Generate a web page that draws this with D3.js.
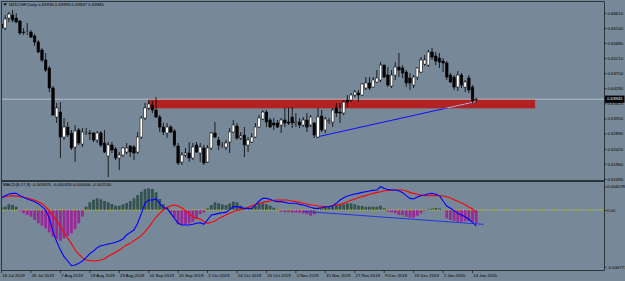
<!DOCTYPE html>
<html>
<head>
<meta charset="utf-8">
<script src="https://cdn.jsdelivr.net/npm/d3@7"></script>
<style>
    html, body { margin: 0; padding: 0; background: #778899; overflow: hidden; }
    svg { display: block; }
    text { font-family: "Liberation Sans", Arial, sans-serif; font-size: 4.3px; fill: #000; }
</style>
</head>
<body>
<div id="chart"></div>
<script>
const width = 625,
    height = 281;

// titles and labels
const symbolTitle = "NZDCHF,Daily  0.63934 0.63993 0.63837 0.63945";
const macdTitle = "MACD(8,17,9) -0.001876 -0.000326 0.000000 -0.001550";
const dateLabels = ["16 Jul 2019", "26 Jul 2019", "7 Aug 2019", "19 Aug 2019", "29 Aug 2019", "10 Sep 2019",
    "20 Sep 2019", "2 Oct 2019", "14 Oct 2019", "24 Oct 2019", "5 Nov 2019", "15 Nov 2019", "27 Nov 2019",
    "9 Dec 2019", "19 Dec 2019", "2 Jan 2020", "14 Jan 2020"];
const priceTicks = [0.6149, 0.6196, 0.6242, 0.6289, 0.6335, 0.6382, 0.6428, 0.6475, 0.6521, 0.6568, 0.6614, 0.6661];
const macdTicks = [0.004078, 0, -0.006771];
const macdTickLabels = ["0.004078", "0.00", "-0.006771"];
const lastPrice = 0.63945;

// daily candles, 16 Jul 2019 .. 15 Jan 2020
const opens = [0.66261, 0.66138, 0.66446, 0.66538, 0.66446, 0.66353, 0.66014, 0.66000, 0.66014, 0.65891,
    0.65706, 0.65460, 0.65152, 0.64906, 0.64290, 0.63396, 0.63550, 0.62780, 0.63088, 0.62904,
    0.62472, 0.62996, 0.62565, 0.62904, 0.62904, 0.62904, 0.62688, 0.62904, 0.62596, 0.62195,
    0.62534, 0.62411, 0.62134, 0.62226, 0.62318, 0.62503, 0.62472, 0.62318, 0.62780, 0.63366,
    0.63674, 0.63766, 0.63612, 0.63396, 0.63088, 0.62904, 0.63088, 0.62965, 0.62503, 0.62010,
    0.62226, 0.62288, 0.62134, 0.62534, 0.62288, 0.62442, 0.62010, 0.62442, 0.62904, 0.62688,
    0.62503, 0.62472, 0.62626, 0.62934, 0.63119, 0.62750, 0.62842, 0.62534, 0.62626, 0.62780,
    0.63088, 0.63335, 0.63550, 0.63304, 0.63212, 0.63212, 0.63150, 0.63304, 0.63242, 0.63396,
    0.63212, 0.63242, 0.63150, 0.63304, 0.63150, 0.63212, 0.62780, 0.63427, 0.62996, 0.63273,
    0.63242, 0.63674, 0.63550, 0.63520, 0.63920, 0.63920, 0.64074, 0.64136, 0.64074, 0.64290,
    0.64444, 0.64320, 0.64474, 0.64536, 0.64998, 0.64690, 0.64351, 0.64690, 0.64936, 0.64906,
    0.64782, 0.64598, 0.64382, 0.64628, 0.64782, 0.65029, 0.64998, 0.65398, 0.65275, 0.65214,
    0.65121, 0.65060, 0.64690, 0.64628, 0.64320, 0.64690, 0.64320, 0.64598, 0.64320, 0.63934];
const highs = [0.66322, 0.66538, 0.66630, 0.66692, 0.66600, 0.66384, 0.66138, 0.66292, 0.66076, 0.65953,
    0.65768, 0.65522, 0.65368, 0.64967, 0.64351, 0.63828, 0.63858, 0.63366, 0.63242, 0.62996,
    0.63150, 0.63058, 0.63058, 0.63058, 0.62996, 0.62934, 0.62965, 0.62965, 0.62996, 0.62626,
    0.62626, 0.62472, 0.62318, 0.62472, 0.62596, 0.62534, 0.62534, 0.62934, 0.63427, 0.63828,
    0.63920, 0.63889, 0.64012, 0.63458, 0.63212, 0.63212, 0.63150, 0.63027, 0.62596, 0.62318,
    0.62442, 0.62626, 0.62596, 0.62626, 0.62596, 0.62534, 0.62534, 0.62934, 0.63242, 0.62780,
    0.62626, 0.62688, 0.63058, 0.63304, 0.63212, 0.62934, 0.63088, 0.62780, 0.62904, 0.63212,
    0.63458, 0.63612, 0.63612, 0.63366, 0.63366, 0.63304, 0.63366, 0.63674, 0.63674, 0.63704,
    0.63520, 0.63366, 0.63396, 0.63520, 0.63458, 0.63242, 0.63674, 0.63612, 0.63396, 0.63366,
    0.63674, 0.63828, 0.63828, 0.63920, 0.64074, 0.64136, 0.64228, 0.64228, 0.64444, 0.64628,
    0.64628, 0.64628, 0.64844, 0.65090, 0.65010, 0.64936, 0.64844, 0.65090, 0.65368, 0.64998,
    0.64844, 0.64752, 0.64690, 0.64936, 0.65244, 0.65306, 0.65460, 0.65522, 0.65398, 0.65368,
    0.65214, 0.65121, 0.64752, 0.64690, 0.64813, 0.64752, 0.64536, 0.64690, 0.64382, 0.63993];
const lows = [0.66076, 0.66076, 0.66322, 0.66322, 0.66292, 0.65922, 0.65922, 0.65922, 0.65830, 0.65583,
    0.65368, 0.65090, 0.64782, 0.64166, 0.63427, 0.63212, 0.62134, 0.62688, 0.62780, 0.62380,
    0.62010, 0.62534, 0.62472, 0.62842, 0.62688, 0.62626, 0.62596, 0.62472, 0.62288, 0.61548,
    0.62288, 0.62072, 0.61764, 0.62164, 0.62257, 0.62164, 0.62072, 0.62257, 0.62719, 0.63304,
    0.63612, 0.63520, 0.63366, 0.62934, 0.62842, 0.62750, 0.62904, 0.62472, 0.61918, 0.61918,
    0.62164, 0.62010, 0.62072, 0.62288, 0.62010, 0.61918, 0.61980, 0.62380, 0.62750, 0.62380,
    0.62442, 0.62380, 0.62288, 0.62904, 0.62688, 0.62688, 0.62164, 0.62318, 0.62596, 0.62750,
    0.63058, 0.63304, 0.63088, 0.63058, 0.62996, 0.63058, 0.62904, 0.63088, 0.63150, 0.63058,
    0.63088, 0.63058, 0.63088, 0.62934, 0.63088, 0.62750, 0.62750, 0.62934, 0.62904, 0.63181,
    0.63088, 0.63396, 0.63212, 0.63458, 0.63704, 0.63858, 0.64012, 0.63858, 0.64043, 0.64228,
    0.64228, 0.64290, 0.64444, 0.64474, 0.64598, 0.64320, 0.64290, 0.64536, 0.64628, 0.64598,
    0.64320, 0.64228, 0.64290, 0.64536, 0.64752, 0.64967, 0.64936, 0.65152, 0.64998, 0.64906,
    0.64782, 0.64536, 0.64444, 0.64228, 0.64197, 0.64290, 0.64166, 0.64136, 0.63828, 0.63837];
const closes = [0.66138, 0.66415, 0.66569, 0.66384, 0.66322, 0.65984, 0.65999, 0.66014, 0.65860, 0.65706,
    0.65398, 0.65152, 0.64844, 0.64290, 0.63458, 0.63674, 0.62780, 0.63088, 0.62842, 0.62442,
    0.62965, 0.62596, 0.62934, 0.62910, 0.62888, 0.62688, 0.62904, 0.62534, 0.62318, 0.62534,
    0.62380, 0.62134, 0.62226, 0.62442, 0.62442, 0.62318, 0.62288, 0.62780, 0.63366, 0.63674,
    0.63797, 0.63612, 0.63396, 0.63088, 0.62934, 0.63088, 0.62934, 0.62534, 0.61980, 0.62226,
    0.62288, 0.62134, 0.62472, 0.62318, 0.62472, 0.61980, 0.62442, 0.62904, 0.62780, 0.62534,
    0.62510, 0.62596, 0.62934, 0.63150, 0.62750, 0.62811, 0.62534, 0.62688, 0.62780, 0.63088,
    0.63366, 0.63550, 0.63242, 0.63088, 0.63150, 0.63088, 0.63304, 0.63212, 0.63212, 0.63212,
    0.63242, 0.63150, 0.63304, 0.63088, 0.63396, 0.62842, 0.63396, 0.62996, 0.63335, 0.63280,
    0.63612, 0.63520, 0.63520, 0.63858, 0.63858, 0.64074, 0.64166, 0.64074, 0.64413, 0.64444,
    0.64290, 0.64536, 0.64598, 0.64998, 0.64628, 0.64382, 0.64690, 0.64936, 0.64844, 0.64752,
    0.64444, 0.64444, 0.64628, 0.64906, 0.65152, 0.65152, 0.65398, 0.65244, 0.65121, 0.65090,
    0.65060, 0.64628, 0.64474, 0.64320, 0.64690, 0.64382, 0.64474, 0.64228, 0.63889, 0.63945];

// MACD(8,17,9): main (blue), signal (red), histogram
const macdMain = [0.00214, 0.00249, 0.00277, 0.00289, 0.00289, 0.00249, 0.00220, 0.00191, 0.00168, 0.00145,
    0.00110, 0.00058, 0.00000, -0.00100, -0.00259, -0.00378, -0.00478, -0.00557, -0.00609, -0.00665,
    -0.00657, -0.00637, -0.00609, -0.00569, -0.00521, -0.00490, -0.00450, -0.00426, -0.00418, -0.00406,
    -0.00398, -0.00386, -0.00370, -0.00346, -0.00299, -0.00267, -0.00239, -0.00159, -0.00040, 0.00116,
    0.00173, 0.00173, 0.00191, 0.00116, 0.00040, 0.00029, -0.00040, -0.00100, -0.00159, -0.00179,
    -0.00179, -0.00179, -0.00171, -0.00159, -0.00151, -0.00171, -0.00119, -0.00060, -0.00052, -0.00040,
    -0.00032, -0.00028, 0.00006, 0.00058, 0.00058, 0.00046, 0.00029, 0.00029, 0.00029, 0.00087,
    0.00156, 0.00202, 0.00202, 0.00185, 0.00156, 0.00145, 0.00145, 0.00133, 0.00116, 0.00116,
    0.00116, 0.00098, 0.00087, 0.00069, 0.00046, 0.00029, 0.00029, 0.00040, 0.00052, 0.00058,
    0.00075, 0.00116, 0.00173, 0.00214, 0.00243, 0.00260, 0.00277, 0.00289, 0.00306, 0.00318,
    0.00329, 0.00341, 0.00347, 0.00405, 0.00376, 0.00353, 0.00347, 0.00347, 0.00335, 0.00301,
    0.00249, 0.00202, 0.00191, 0.00225, 0.00249, 0.00260, 0.00283, 0.00289, 0.00272, 0.00249,
    0.00156, 0.00069, 0.00029, -0.00008, -0.00040, -0.00060, -0.00080, -0.00111, -0.00147, -0.00188];
const macdSignal = [0.00220, 0.00231, 0.00243, 0.00249, 0.00243, 0.00231, 0.00220, 0.00208, 0.00191, 0.00168,
    0.00145, 0.00110, 0.00052, -0.00008, -0.00064, -0.00131, -0.00199, -0.00271, -0.00338, -0.00402,
    -0.00478, -0.00529, -0.00569, -0.00597, -0.00605, -0.00609, -0.00605, -0.00597, -0.00581, -0.00553,
    -0.00529, -0.00505, -0.00478, -0.00446, -0.00418, -0.00398, -0.00366, -0.00338, -0.00306, -0.00259,
    -0.00207, -0.00143, -0.00084, -0.00040, 0.00000, 0.00046, 0.00075, 0.00087, 0.00069, 0.00035,
    -0.00008, -0.00048, -0.00080, -0.00100, -0.00107, -0.00139, -0.00159, -0.00147, -0.00131, -0.00103,
    -0.00080, -0.00060, -0.00040, -0.00020, -0.00004, 0.00006, 0.00023, 0.00046, 0.00069, 0.00098,
    0.00116, 0.00133, 0.00145, 0.00156, 0.00168, 0.00171, 0.00173, 0.00173, 0.00168, 0.00156,
    0.00145, 0.00133, 0.00116, 0.00104, 0.00092, 0.00081, 0.00069, 0.00064, 0.00058, 0.00064,
    0.00075, 0.00087, 0.00098, 0.00116, 0.00145, 0.00168, 0.00191, 0.00214, 0.00237, 0.00249,
    0.00272, 0.00289, 0.00306, 0.00318, 0.00335, 0.00341, 0.00347, 0.00347, 0.00347, 0.00347,
    0.00329, 0.00306, 0.00289, 0.00272, 0.00260, 0.00249, 0.00249, 0.00249, 0.00249, 0.00249,
    0.00243, 0.00231, 0.00208, 0.00179, 0.00150, 0.00121, 0.00092, 0.00052, 0.00017, -0.00033];
const macdHist = [0.00047, 0.00057, 0.00099, 0.00087, 0.00057, -0.00012, -0.00039, -0.00060, -0.00080, -0.00119,
    -0.00159, -0.00187, -0.00219, -0.00266, -0.00319, -0.00346, -0.00367, -0.00338, -0.00310, -0.00278,
    -0.00227, -0.00159, -0.00080, 0.00057, 0.00134, 0.00179, 0.00203, 0.00186, 0.00156, 0.00134,
    0.00104, 0.00075, 0.00075, 0.00099, 0.00121, 0.00156, 0.00203, 0.00260, 0.00318, 0.00364,
    0.00376, 0.00364, 0.00307, 0.00191, 0.00099, 0.00040, -0.00039, -0.00092, -0.00171, -0.00171,
    -0.00171, -0.00159, -0.00140, -0.00107, -0.00048, -0.00030, 0.00026, 0.00087, 0.00134, 0.00116,
    0.00099, 0.00087, 0.00116, 0.00144, 0.00134, 0.00075, 0.00029, 0.00017, 0.00035, 0.00069,
    0.00121, 0.00116, 0.00099, 0.00075, 0.00040, 0.00009, -0.00020, -0.00027, -0.00027, -0.00032,
    -0.00032, -0.00032, -0.00039, -0.00051, -0.00068, -0.00051, 0.00012, 0.00029, 0.00047, 0.00057,
    0.00075, 0.00087, 0.00087, 0.00099, 0.00116, 0.00116, 0.00099, 0.00075, 0.00069, 0.00057,
    0.00057, 0.00057, 0.00057, 0.00075, 0.00029, -0.00020, -0.00027, -0.00039, -0.00060, -0.00060,
    -0.00080, -0.00092, -0.00092, -0.00068, -0.00039, -0.00012, 0.00017, 0.00026, 0.00035, 0.00026,
    -0.00006, -0.00099, -0.00119, -0.00131, -0.00140, -0.00140, -0.00131, -0.00131, -0.00140, -0.00155];

// drawn objects: zone rectangle and trend lines (bar index, value)
const zoneBars = [40, 145];
const zonePrices = [0.63942, 0.63664];
const priceTrend = [[86, 0.62790], [129, 0.63874]];
const macdTrend = [[82, -0.00016], [131, -0.00171]];

const frame = { left: 1.5, right: 604.5, top: 1.5, split: 181, bottom: 270.5 };

const x = d3.scaleLinear().domain([0, 129]).range([1.5, 476.2]);
const yPrice = d3.scaleLinear().domain([0.6149, 0.6661]).range([178.9, 12.7]);
const yMacd = d3.scaleLinear().domain([-0.006771, 0, 0.004078]).range([266.7, 210, 186.5]);

const candles = opens.map((o, i) => ({ i: i, o: o, h: highs[i], l: lows[i], c: closes[i] }));

const svg = d3.select("#chart")
    .append("svg")
    .attr("width", width)
    .attr("height", height);

svg.append("rect")
    .attr("width", width)
    .attr("height", height)
    .attr("fill", "#778899");

const defs = svg.append("defs");
defs.append("clipPath").attr("id", "clipMain")
    .append("rect").attr("x", 2).attr("y", 2).attr("width", 602).attr("height", 178);
defs.append("clipPath").attr("id", "clipMacd")
    .append("rect").attr("x", 2).attr("y", 182).attr("width", 602).attr("height", 88);
defs.append("clipPath").attr("id", "clipZone")
    .append("rect")
    .attr("x", x(zoneBars[0]))
    .attr("y", yPrice(zonePrices[0]))
    .attr("width", x(zoneBars[1]) - x(zoneBars[0]))
    .attr("height", yPrice(zonePrices[1]) - yPrice(zonePrices[0]));

// ---- main window
const gMain = svg.append("g").attr("clip-path", "url(#clipMain)");

gMain.append("rect")
    .attr("x", x(zoneBars[0]))
    .attr("y", yPrice(zonePrices[0]))
    .attr("width", x(zoneBars[1]) - x(zoneBars[0]))
    .attr("height", yPrice(zonePrices[1]) - yPrice(zonePrices[0]))
    .attr("fill", "#b22222");

// bid line
gMain.append("line")
    .attr("x1", 2).attr("x2", 604)
    .attr("y1", yPrice(lastPrice)).attr("y2", yPrice(lastPrice))
    .attr("stroke", "#c4cad0")
    .attr("stroke-width", 0.8);

const trendLine = d3.line()
    .x(d => x(d[0]))
    .y(d => yPrice(d[1]));

gMain.append("path")
    .attr("d", trendLine(priceTrend))
    .attr("fill", "none")
    .attr("stroke", "#0000ff")
    .attr("stroke-width", 0.9);

gMain.append("path")
    .attr("d", trendLine(priceTrend))
    .attr("clip-path", "url(#clipZone)")
    .attr("fill", "none")
    .attr("stroke", "#ecc88e")
    .attr("stroke-width", 0.9);

// wicks
gMain.selectAll("line.wick")
    .data(candles)
    .join("line")
    .attr("class", "wick")
    .attr("x1", d => x(d.i)).attr("x2", d => x(d.i))
    .attr("y1", d => yPrice(d.h)).attr("y2", d => yPrice(d.l))
    .attr("stroke", "#000")
    .attr("stroke-width", 0.8);

// bodies
gMain.selectAll("rect.body")
    .data(candles)
    .join("rect")
    .attr("class", "body")
    .attr("x", d => x(d.i) - 1.3)
    .attr("width", 2.6)
    .attr("y", d => yPrice(Math.max(d.o, d.c)))
    .attr("height", d => Math.max(0.7, Math.abs(yPrice(d.o) - yPrice(d.c))))
    .attr("fill", d => d.c > d.o ? "#fff" : "#000")
    .attr("stroke", "#000")
    .attr("stroke-width", 0.5);

// ---- MACD window
const gMacd = svg.append("g").attr("clip-path", "url(#clipMacd)");

gMacd.selectAll("rect.hist")
    .data(macdHist)
    .join("rect")
    .attr("class", "hist")
    .attr("x", (d, i) => x(i) - 1.4)
    .attr("width", 2.8)
    .attr("y", d => Math.min(yMacd(d), yMacd(0)))
    .attr("height", d => Math.abs(yMacd(d) - yMacd(0)))
    .attr("fill", d => d >= 0 ? "#34524f" : "#982a98");

gMacd.append("line")
    .attr("x1", 2).attr("x2", 604)
    .attr("y1", yMacd(0)).attr("y2", yMacd(0))
    .attr("stroke", "#e6e000")
    .attr("stroke-width", 0.8)
    .attr("stroke-dasharray", "1.2,1.2");

const macdLine = d3.line()
    .x((d, i) => x(i))
    .y(d => yMacd(d));

gMacd.append("path")
    .attr("d", macdLine(macdSignal))
    .attr("fill", "none")
    .attr("stroke", "#ff0000")
    .attr("stroke-width", 1.1);

gMacd.append("path")
    .attr("d", macdLine(macdMain))
    .attr("fill", "none")
    .attr("stroke", "#0000ff")
    .attr("stroke-width", 1.1);

gMacd.append("path")
    .attr("d", d3.line().x(d => x(d[0])).y(d => yMacd(d[1]))(macdTrend))
    .attr("fill", "none")
    .attr("stroke", "#1a2ee0")
    .attr("stroke-width", 0.9);

// ---- frame
const frameColor = "#2c343c";
svg.append("path")
    .attr("d", `M${frame.left},${frame.bottom}V${frame.top}H${frame.right}V${frame.bottom}H${frame.left}`)
    .attr("fill", "none")
    .attr("stroke", frameColor)
    .attr("stroke-width", 1);
svg.append("line")
    .attr("x1", frame.left).attr("x2", frame.right)
    .attr("y1", frame.split).attr("y2", frame.split)
    .attr("stroke", frameColor)
    .attr("stroke-width", 2);

// price axis
const yAxisPrice = d3.axisRight(yPrice)
    .tickValues(priceTicks)
    .tickFormat(d3.format(".5f"))
    .tickSize(2)
    .tickPadding(1);

svg.append("g")
    .attr("transform", `translate(${frame.right}, 0)`)
    .call(yAxisPrice)
    .call(g => g.select(".domain").remove())
    .call(g => g.selectAll("line").attr("stroke", "#000").attr("stroke-width", 0.6))
    .call(g => g.selectAll("text").attr("font-size", "4.3px").attr("font-family", null).attr("fill", "#000"));

// current price box
const lastY = yPrice(lastPrice);
svg.append("rect")
    .attr("x", frame.right + 0.5)
    .attr("y", lastY - 3.6)
    .attr("width", 19.5)
    .attr("height", 7.2)
    .attr("fill", "#000");
svg.append("text")
    .attr("x", frame.right + 2.5)
    .attr("y", lastY)
    .attr("dominant-baseline", "middle")
    .style("fill", "#fff")
    .text(d3.format(".5f")(lastPrice));

// MACD axis
const yAxisMacd = d3.axisRight(yMacd)
    .tickValues(macdTicks)
    .tickFormat((d, i) => macdTickLabels[i])
    .tickSize(2)
    .tickPadding(0.5);

svg.append("g")
    .attr("transform", `translate(${frame.right}, 0)`)
    .call(yAxisMacd)
    .call(g => g.select(".domain").remove())
    .call(g => g.selectAll("line").attr("stroke", "#000").attr("stroke-width", 0.6))
    .call(g => g.selectAll("text").attr("font-size", "4.3px").attr("font-family", null).attr("fill", "#000"));

// time axis (MT4 puts the label right of the bar tick)
const timeAxis = svg.append("g");
timeAxis.selectAll("line")
    .data(dateLabels)
    .join("line")
    .attr("x1", (d, k) => x(k * 8)).attr("x2", (d, k) => x(k * 8))
    .attr("y1", frame.bottom).attr("y2", frame.bottom + 2.5)
    .attr("stroke", "#000")
    .attr("stroke-width", 0.6);
timeAxis.selectAll("text")
    .data(dateLabels)
    .join("text")
    .attr("x", (d, k) => x(k * 8) + 0.8)
    .attr("y", 275.5)
    .attr("dominant-baseline", "middle")
    .text(d => d);

// titles
svg.append("path")
    .attr("d", "M3.2,3.4H7L5.1,5.8Z")
    .attr("fill", "#000");
svg.append("text")
    .attr("x", 9)
    .attr("y", 4.8)
    .attr("dominant-baseline", "middle")
    .text(symbolTitle);
svg.append("text")
    .attr("x", 3)
    .attr("y", 185.3)
    .attr("dominant-baseline", "middle")
    .text(macdTitle);
</script>
</body>
</html>
